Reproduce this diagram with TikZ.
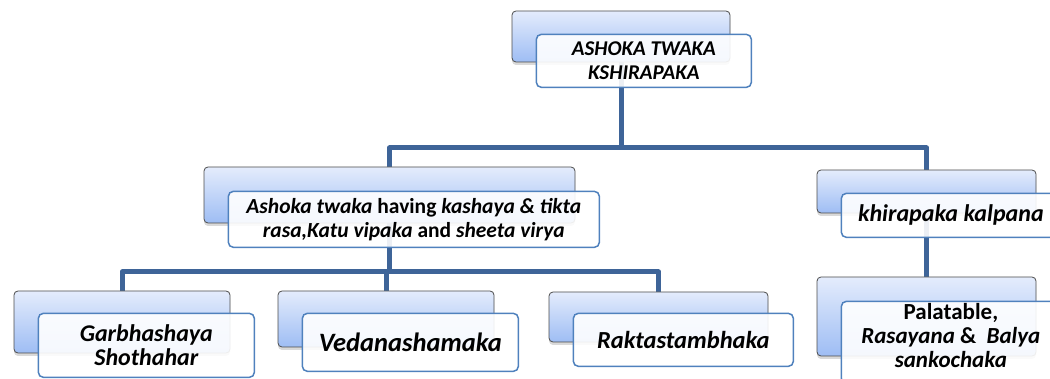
\documentclass[tikz,border=0pt]{standalone}
\usepackage{fontspec}
\setmainfont{Carlito}
\usetikzlibrary{shadows}
\pgfdeclarelayer{bg}
\pgfsetlayers{bg,main}

\definecolor{linkblue}{RGB}{62,100,152}
\definecolor{frameblue}{RGB}{79,129,189}
\definecolor{shadetop}{RGB}{228,236,252}
\definecolor{shadebot}{RGB}{158,189,244}

\begin{document}
\begin{tikzpicture}[x=1pt,y=-1pt]
    \tikzstyle{backbox}=[rectangle,rounded corners=4pt,draw=black!70,line width=0.8pt,top color=shadetop,bottom color=shadebot,drop shadow={shadow xshift=0pt,shadow yshift=-3pt,opacity=0.3}]
    \tikzstyle{frontbox}=[rectangle,rounded corners=5pt,draw=frameblue,line width=1.5pt,fill=white,fill opacity=0.9,text opacity=1,anchor=north west,align=center,inner sep=2pt]
    \tikzstyle{txt}=[font=\fontsize{#1}{24}\selectfont\bfseries\itshape]
    \tikzstyle{link}=[draw=linkblue,line width=5pt,line join=round]

    \useasboundingbox (0,0) rectangle (1050,379);

    % back boxes: name/x/y/width/height
    \foreach \name/\x/\y/\w/\h in {root/621/36.5/218/51, rasa/389.5/195/371/56, kalp/926.5/191.5/219/43,
                                 garb/122/322/216/62, veda/386/319/216/56, rakt/658.5/317/219/50, pala/926.5/316.5/219/79}
        \node[backbox,minimum width=\w,minimum height=\h] (\name-b) at (\x,\y) {};

    % front boxes
    \node[frontbox,txt=21,minimum width=215,minimum height=53] (root) at ([shift={(24pt,-23pt)}]root-b.north west)
        {ASHOKA TWAKA\\KSHIRAPAKA};
    \node[frontbox,txt=21.5,minimum width=371,minimum height=56] (rasa) at ([shift={(24pt,-24pt)}]rasa-b.north west)
        {Ashoka twaka \upshape having \itshape kashaya \& tikta\\rasa,Katu vipaka \upshape and \itshape sheeta virya};
    \node[frontbox,txt=24,minimum width=219,minimum height=44] (kalp) at ([shift={(24pt,-23pt)}]kalp-b.north west)
        {khirapaka kalpana};
    \node[frontbox,txt=24,minimum width=216,minimum height=64] (garb) at ([shift={(24pt,-22pt)}]garb-b.north west)
        {Garbhashaya\\Shothahar};
    \node[frontbox,txt=26.5,minimum width=216,minimum height=58] (veda) at ([shift={(24pt,-22pt)}]veda-b.north west)
        {Vedanashamaka};
    \node[frontbox,txt=24.5,minimum width=220,minimum height=53] (rakt) at ([shift={(24pt,-21pt)}]rakt-b.north west)
        {Raktastambhaka};
    \node[frontbox,txt=23,minimum width=219] (pala) at ([shift={(24pt,-24pt)}]pala-b.north west)
        {\upshape Palatable,\\Rasayana \upshape\&\ \ \itshape Balya\\sankochaka\rule[-14pt]{0pt}{0pt}};

    \coordinate (top-bar) at (0,148);
    \coordinate (mid-bar) at (0,272);

    \begin{pgfonlayer}{bg}
        \draw[link] (root-b) -- (root-b |- top-bar) -| (rasa-b);
        \draw[link] (root-b |- top-bar) -| (kalp-b);
        \draw[link] (kalp-b) -- (pala-b);

        \foreach \to in {garb,veda,rakt}
            \draw[link] (rasa-b) -- (rasa-b |- mid-bar) -| (\to-b);
    \end{pgfonlayer}
\end{tikzpicture}
\end{document}
